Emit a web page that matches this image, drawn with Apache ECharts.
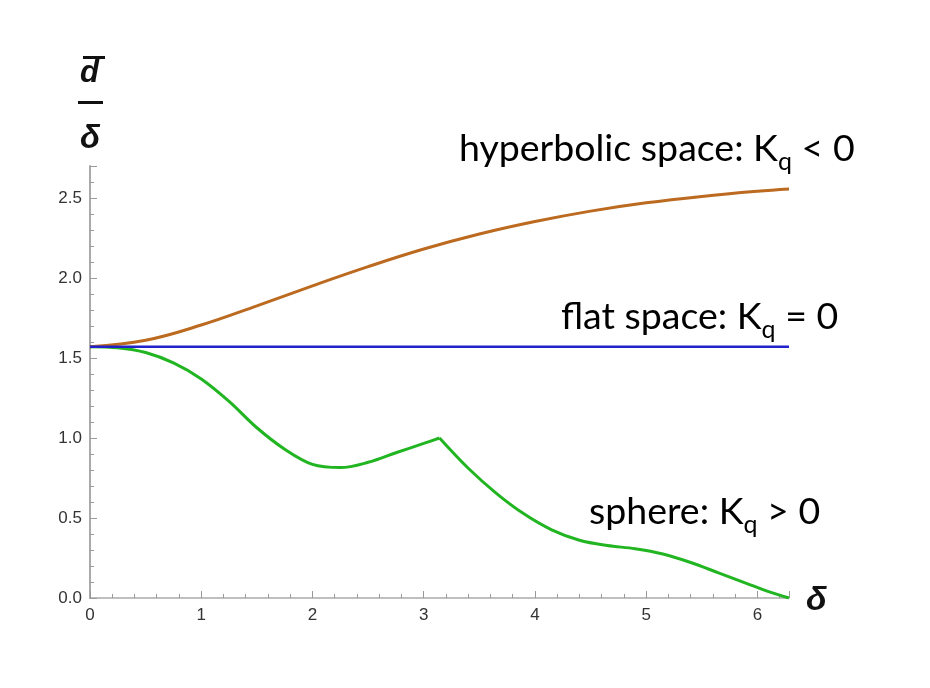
<!DOCTYPE html>
<html>
<head>
<meta charset="utf-8">
<script src="https://cdn.jsdelivr.net/npm/echarts@6/dist/echarts.min.js"></script>
<style>html,body{margin:0;padding:0;background:#fff}#c{width:930px;height:688px}</style>
</head>
<body>
<div id="c"></div>
<script>
// ---- data ----
var TWO_PI = 6.2832;
var PI = 3.1416;
var xTicks = [0, 1, 2, 3, 4, 5, 6];
var yTicks = [0.0, 0.5, 1.0, 1.5, 2.0, 2.5];

var hyperX = [0, 0.5, 1.0, 1.5, 2.0, 2.5, 3.0, 3.5, 4.0, 4.5, 5.0, 5.5, 6.0, 6.2832];
var hyperY = [1.5708, 1.611, 1.706, 1.826, 1.951, 2.071, 2.181, 2.275, 2.353, 2.418, 2.47, 2.51, 2.542, 2.556];

var flatX = [0, 6.2832];
var flatY = [1.5708, 1.5708];

// sphere curve, left part (0..pi) and right part (pi..2pi), corner at pi
var sphereLeftX = [0, 0.25, 0.5, 0.75, 1.0, 1.25, 1.5, 1.75, 2.0, 2.25, 2.5, 2.75, 3.0, 3.1416];
var sphereLeftY = [1.5708, 1.564, 1.534, 1.469, 1.369, 1.229, 1.064, 0.93, 0.835, 0.815, 0.848, 0.908, 0.966, 1.0];
var sphereRightX = [3.1416, 3.4, 3.65, 3.9, 4.15, 4.4, 4.65, 4.9, 5.15, 5.4, 5.65, 5.9, 6.1, 6.2832];
var sphereRightY = [1.0, 0.811, 0.656, 0.526, 0.426, 0.361, 0.328, 0.308, 0.275, 0.222, 0.157, 0.092, 0.04, 0];

var labels = ["hyperbolic space: K", "flat space: K", "sphere: K"];
var labelTails = [" < 0", " = 0", " > 0"];

function zip(xs, ys) { return xs.map(function (x, i) { return [x, ys[i]]; }); }

var chart = echarts.init(document.getElementById('c'), null, {renderer: 'canvas'});

var rich = {
  a: {fontFamily: 'Lato', fontSize: 37.5, color: '#1a1a1a', lineHeight: 44, verticalAlign: 'top'},
  s: {fontFamily: 'Lato', fontSize: 25, color: '#1a1a1a', lineHeight: 26, verticalAlign: 'bottom'}
};
function richLabel(i) { return '{a|' + labels[i] + '}{s|q}{a|' + labelTails[i] + '}'; }

var axisTxt = {fontFamily: 'Liberation Sans', fontSize: 17, color: '#333'};
var green = '#22b522';

chart.setOption({
  animation: false,
  backgroundColor: '#fff',
  grid: {left: 90, right: 141, top: 166, bottom: 90, containLabel: false},
  xAxis: {
    type: 'value', min: 0, max: TWO_PI, interval: 1,
    axisLine: {show: true, lineStyle: {color: '#aaa', width: 1.5}},
    axisTick: {show: true, inside: true, length: 7, lineStyle: {color: '#999', width: 1}},
    minorTick: {show: true, splitNumber: 5, length: 4, lineStyle: {color: '#999', width: 1}},
    splitLine: {show: false},
    axisLabel: Object.assign({margin: 9, showMaxLabel: false, formatter: function (v) { return xTicks.indexOf(v) >= 0 ? String(v) : ''; }}, axisTxt)
  },
  yAxis: {
    type: 'value', min: 0, max: 2.7, interval: 0.5,
    axisLine: {show: true, lineStyle: {color: '#aaa', width: 2}},
    axisTick: {show: true, inside: true, length: 7, lineStyle: {color: '#999', width: 1}},
    minorTick: {show: true, splitNumber: 5, length: 4, lineStyle: {color: '#999', width: 1}},
    splitLine: {show: false},
    axisLabel: Object.assign({margin: 8, showMaxLabel: false, formatter: function (v) { return yTicks.indexOf(v) >= 0 ? v.toFixed(1) : ''; }}, axisTxt)
  },
  series: [
    {type: 'line', data: zip(hyperX, hyperY), smooth: 0.4, showSymbol: false, lineStyle: {color: '#bb6a20', width: 3}, z: 3},
    {type: 'line', data: zip(flatX, flatY), showSymbol: false, lineStyle: {color: '#2222cc', width: 2.5}, z: 4},
    {type: 'line', data: zip(sphereLeftX, sphereLeftY), smooth: 0.35, showSymbol: false, lineStyle: {color: green, width: 3}, z: 2},
    {type: 'line', data: zip(sphereRightX, sphereRightY), smooth: 0.35, showSymbol: false, lineStyle: {color: green, width: 3}, z: 2}
  ],
  graphic: [
    {type: 'text', left: 459, top: 130, style: {text: richLabel(0), rich: rich}},
    {type: 'text', left: 561, top: 298, style: {text: richLabel(1), rich: rich}},
    {type: 'text', left: 589, top: 493, style: {text: richLabel(2), rich: rich}},
    // x-axis label
    {type: 'text', left: 806, top: 584, style: {text: 'δ', font: 'italic bold 34px "Liberation Sans"', fill: '#111'}},
    // y-axis label: d-bar over delta
    {type: 'text', left: 80, top: 58, style: {text: 'd', font: 'italic bold 31px "Liberation Sans"', fill: '#111'}},
    {type: 'rect', shape: {x: 83, y: 56, width: 22, height: 3}, style: {fill: '#111'}},
    {type: 'rect', shape: {x: 78, y: 101, width: 25, height: 3}, style: {fill: '#111'}},
    {type: 'text', left: 80, top: 122, style: {text: 'δ', font: 'italic bold 33px "Liberation Sans"', fill: '#111'}}
  ]
});
</script>
</body>
</html>
